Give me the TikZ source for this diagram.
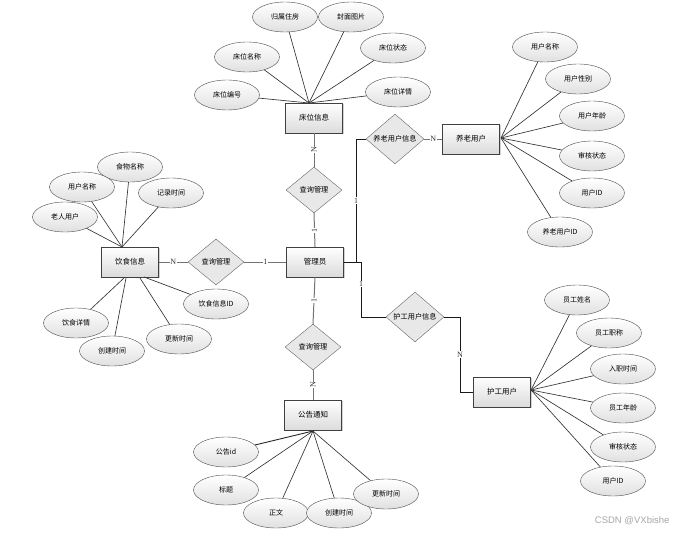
\documentclass[tikz,border=0pt]{standalone}
\usepackage{fontspec}
\setmainfont{Noto Sans CJK SC}
\newfontfamily\lblfont{Liberation Serif}
\newfontfamily\wmfont{Liberation Sans}
\usetikzlibrary{shapes.geometric,shadows}
\begin{document}
\begin{tikzpicture}[x=1pt,y=-1pt,
  entity/.style={draw=black!75, minimum width=57pt, minimum height=30pt, inner sep=0pt,
    top color=white, bottom color=black!14,
    drop shadow={shadow xshift=1.2pt, shadow yshift=-1.2pt, fill=black!35},
    font=\fontsize{7.5}{8}\selectfont},
  attr/.style={ellipse, draw=black!70, minimum width=65pt, minimum height=30pt, inner sep=0pt,
    top color=white, bottom color=black!12, font=\fontsize{7}{8}\selectfont},
  rel/.style={diamond, draw=black!60, fill=black!9, minimum width=56pt, minimum height=46pt,
    inner sep=0pt, font=\fontsize{7.2}{8}\selectfont},
  conn/.style={draw=black!55, line width=1pt},
  elb/.style={draw=black!90, line width=0.8pt},
  al/.style={draw=black!80, line width=0.65pt},
  lab/.style={fill=white, inner sep=0.5pt, text=black!80, font=\lblfont\fontsize{8}{8}\selectfont}
]
\useasboundingbox (0,0) rectangle (679,535);

% entities
\node[entity] (bed)    at (314,118) {床位信息};
\node[entity] (diet)   at (130,262) {饮食信息};
\node[entity] (admin)  at (315,262) {管理员};
\node[entity] (elder)  at (471,139) {养老用户};
\node[entity] (nurse)  at (502,392) {护工用户};
\node[entity] (notice) at (313,415) {公告通知};

% relations
\node[rel] (q1) at (314,190) {查询管理};
\node[rel] (q2) at (216,262) {查询管理};
\node[rel] (q3) at (313,347) {查询管理};
\node[rel, minimum width=58pt] (q4) at (395,139) {养老用户信息};
\node[rel, minimum width=58pt] (q5) at (415,317) {护工用户信息};

% relation connectors
\draw[conn] (bed.south) -- node[lab, rotate=90] {N} (q1.north);
\draw[conn] (q1.south) -- node[lab, rotate=90] {1} (admin.north);
\draw[conn] (diet.east) -- node[lab] {N} (q2.west);
\draw[conn] (q2.east) -- node[lab] {1} (admin.west);
\draw[conn] (admin.south) -- node[lab, rotate=90] {1} (q3.north);
\draw[conn] (q3.south) -- node[lab, rotate=90] {N} (notice.north);
\draw[conn] (q4.east) -- node[lab] {N} (elder.west);

\coordinate (j1) at (356,262);
\coordinate (j2) at (361,262);
\coordinate (j3) at (460,317);
\draw[elb] (admin.east) -- (j2);
\draw[elb] (j1) |- node[lab, pos=0.25] {1} (q4.west);
\draw[elb] (j2) |- node[lab, pos=0.2] {1} (q5.west);
\draw[elb] (q5.east) -- (j3) |- node[lab, pos=0.25] {N} (nurse.west);

% attributes of 床位信息
\node[attr] (b1) at (285,17)  {归属住房};
\node[attr] (b2) at (351,17)  {封面图片};
\node[attr] (b3) at (247,57)  {床位名称};
\node[attr] (b4) at (393,48)  {床位状态};
\node[attr] (b5) at (227,95)  {床位编号};
\node[attr] (b6) at (398,92)  {床位详情};
\coordinate (bt) at (309,103);
\foreach \a in {b1,b2,b3,b4,b5,b6} \draw[al] (bt) -- (\a);

% attributes of 饮食信息
\node[attr] (d1) at (130,167) {食物名称};
\node[attr] (d2) at (82,187)  {用户名称};
\node[attr] (d3) at (171,193) {记录时间};
\node[attr] (d4) at (65,217)  {老人用户};
\node[attr] (d5) at (216,304) {饮食信息ID};
\node[attr] (d6) at (76,323)  {饮食详情};
\node[attr] (d7) at (112,351) {创建时间};
\node[attr] (d8) at (179,339) {更新时间};
\coordinate (dt) at (122,247);
\foreach \a in {d1,d2,d3,d4} \draw[al] (dt) -- (\a);
\coordinate (db1) at (124,278);
\coordinate (db2) at (126,278);
\coordinate (db3) at (140,278);
\coordinate (db4) at (144,277);
\draw[al] (db1) -- (d6);
\draw[al] (db2) -- (d7);
\draw[al] (db3) -- (d8);
\draw[al] (db4) -- (d5);

% attributes of 养老用户
\node[attr] (e1) at (545,47)  {用户名称};
\node[attr] (e2) at (578,79)  {用户性别};
\node[attr] (e3) at (592,116) {用户年龄};
\node[attr] (e4) at (592,156) {审核状态};
\node[attr] (e5) at (592,193) {用户ID};
\node[attr] (e6) at (560,232) {养老用户ID};
\coordinate (er) at (501,138);
\foreach \a in {e1,e2,e3,e4,e5,e6} \draw[al] (er) -- (\a);

% attributes of 护工用户
\node[attr] (n1) at (577,300) {员工姓名};
\node[attr] (n2) at (609,333) {员工职称};
\node[attr] (n3) at (623,369) {入职时间};
\node[attr] (n4) at (623,408) {员工年龄};
\node[attr] (n5) at (623,447) {审核状态};
\node[attr] (n6) at (613,481) {用户ID};
\coordinate (nr) at (531,390);
\foreach \a in {n1,n2,n3,n4,n5,n6} \draw[al] (nr) -- (\a);

% attributes of 公告通知
\node[attr] (g1) at (226,452) {公告id};
\node[attr] (g2) at (226,490) {标题};
\node[attr] (g3) at (276,513) {正文};
\node[attr] (g4) at (339,513) {创建时间};
\node[attr] (g5) at (386,494) {更新时间};
\coordinate (gb) at (313,431);
\draw[draw=black!85, line width=0.9pt] (gb) -- (g1);
\foreach \a in {g2,g3,g4,g5} \draw[al] (gb) -- (\a);

% watermark
\node[text=black!35, font=\wmfont\fontsize{9.5}{10}\selectfont, anchor=east] (wm) at (673,521) {CSDN @VXbishe};
\end{tikzpicture}
\end{document}
